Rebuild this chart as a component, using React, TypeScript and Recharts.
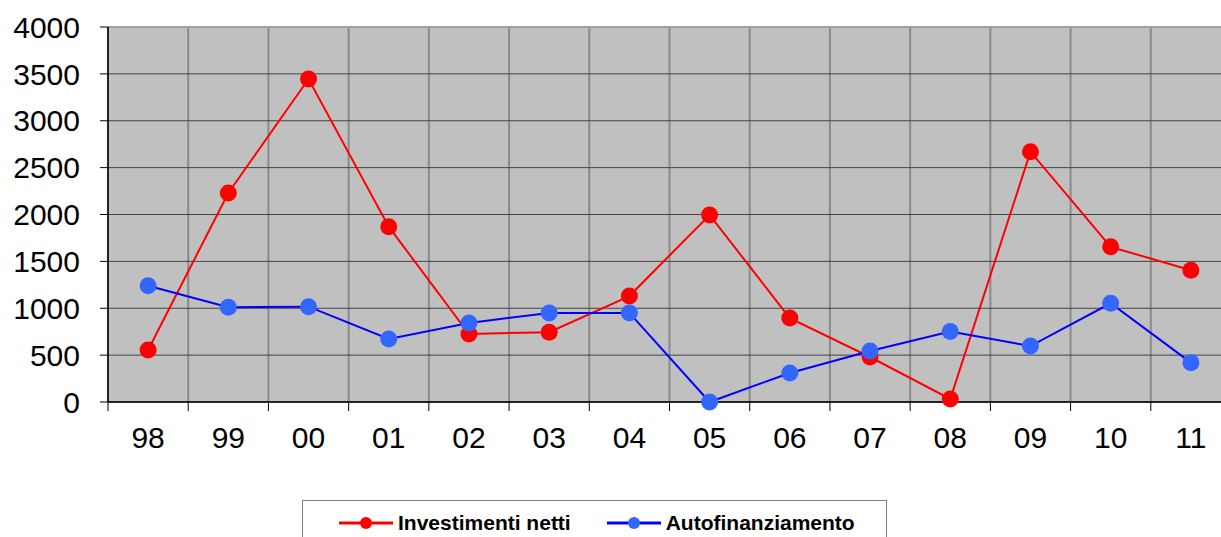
import React from 'react';
import { LineChart, Line, XAxis, YAxis, CartesianGrid, Legend, ReferenceLine } from 'recharts';

const categories = ['98', '99', '00', '01', '02', '03', '04', '05', '06', '07', '08', '09', '10', '11'];
const investimentiNetti = [555, 2230, 3445, 1870, 725, 745, 1130, 1995, 895, 480, 32, 2670, 1655, 1405];
const autofinanziamento = [1240, 1010, 1017, 672, 843, 950, 950, 0, 310, 544, 752, 597, 1053, 420];
const yTicks = [0, 500, 1000, 1500, 2000, 2500, 3000, 3500, 4000];
const seriesNames = ['Investimenti netti', 'Autofinanziamento'];

const data = categories.map((c, i) => ({
  year: c,
  inv: investimentiNetti[i],
  auto: autofinanziamento[i],
}));

const FONT = '"Liberation Sans", Arial, Helvetica, sans-serif';
const X_TICK_SIZE = 9;
const X_TICK_MARGIN = 16;

const XTick = (props: any) => {
  const { x, y, payload } = props;
  const half = typeof payload?.offset === 'number' ? payload.offset : 0;
  const lx = x - half;
  return (
    <g>
      <line x1={lx} x2={lx} y1={y - X_TICK_MARGIN - X_TICK_SIZE} y2={y - X_TICK_MARGIN} stroke="#000" strokeWidth={1} />
      <text x={x} y={y} dy="0.71em" textAnchor="middle" fontFamily={FONT} fontSize={30} fill="#000">
        {payload.value}
      </text>
    </g>
  );
};

const verticalGen = (args: any) => {
  const s = args?.xAxis?.scale;
  const call = (v: any): any => {
    try {
      if (typeof s === 'function') return s(v);
      if (s && typeof s.map === 'function') return s.map(v);
      if (s && typeof s.apply === 'function') return s.apply(v);
    } catch (e) {
      return undefined;
    }
    return undefined;
  };
  let bw: any = undefined;
  try {
    if (s && typeof s.bandwidth === 'function') bw = s.bandwidth();
  } catch (e) {
    bw = undefined;
  }
  const pts: number[] = categories.map((c) => call(c));
  const ok = pts.every((p) => typeof p === 'number' && !isNaN(p)) && typeof bw === 'number';
  if (ok) {
    return [...pts, pts[pts.length - 1] + bw];
  }
  const off = args?.offset;
  if (!off) return [];
  const step = off.width / categories.length;
  return [...categories.map((_, i) => off.left + i * step), off.left + off.width];
};

const LegendContent = () => {
  const item = (name: string, lineColor: string, dotColor: string, mr: number) => (
    <div style={{ display: 'flex', alignItems: 'center', marginRight: mr }}>
      <svg width={54} height={14} style={{ marginRight: 5 }}>
        <line x1={0} x2={54} y1={7} y2={7} stroke={lineColor} strokeWidth={3} />
        <circle cx={27} cy={7} r={6} fill={dotColor} />
      </svg>
      <span style={{ fontFamily: FONT, fontWeight: 'bold', fontSize: 21, color: '#000', lineHeight: '24px' }}>{name}</span>
    </div>
  );
  return (
    <div
      style={{
        boxSizing: 'border-box',
        width: 585,
        height: 44,
        border: '1px solid #808080',
        background: '#fff',
        display: 'flex',
        alignItems: 'flex-start',
        paddingLeft: 36,
        paddingTop: 10,
      }}
    >
      {item(seriesNames[0], '#ff0000', '#ff0000', 36)}
      {item(seriesNames[1], '#0000ff', '#3366ff', 0)}
    </div>
  );
};

export default function App() {
  return (
    <div style={{ position: 'absolute', left: 0, top: 0, width: 1221, height: 537, overflow: 'hidden', background: '#fff' }}>
      <LineChart width={1240} height={537} data={data} margin={{ top: 27, right: 9, bottom: 95, left: 0 }}>
        <CartesianGrid horizontal={false} vertical={true} fill="#c0c0c0" stroke="#8a8a8a" strokeWidth={2} verticalCoordinatesGenerator={verticalGen} />
        <CartesianGrid horizontal={true} vertical={false} stroke="#444" strokeWidth={1} />
        <ReferenceLine y={4000} stroke="#a0a0a0" strokeWidth={2} />
        <XAxis
          dataKey="year"
          scale="band"
          type="category"
          interval={0}
          height={40}
          tickLine={false}
          tickSize={X_TICK_SIZE}
          tickMargin={X_TICK_MARGIN}
          axisLine={{ stroke: '#000', strokeWidth: 1.5 }}
          tick={<XTick />}
        />
        <YAxis
          width={108}
          domain={[0, 4000]}
          ticks={yTicks}
          interval={0}
          tickSize={8}
          tickMargin={20}
          axisLine={{ stroke: '#000', strokeWidth: 1.5 }}
          tickLine={{ stroke: '#000' }}
          tick={{ fontFamily: FONT, fontSize: 30, fill: '#000' }}
        />
        <Legend
          layout="horizontal"
          verticalAlign="middle"
          align="center"
          wrapperStyle={{ position: 'absolute', left: 302, top: 500, width: 585, height: 44 }}
          content={<LegendContent />}
        />
        <Line
          type="linear"
          dataKey="inv"
          name={seriesNames[0]}
          stroke="#ff0000"
          strokeWidth={2}
          dot={{ r: 8.5, fill: '#ff0000', stroke: 'none' }}
          activeDot={false}
          isAnimationActive={false}
        />
        <Line
          type="linear"
          dataKey="auto"
          name={seriesNames[1]}
          stroke="#0000ff"
          strokeWidth={2}
          dot={{ r: 8.5, fill: '#3366ff', stroke: 'none' }}
          activeDot={false}
          isAnimationActive={false}
        />
      </LineChart>
    </div>
  );
}
